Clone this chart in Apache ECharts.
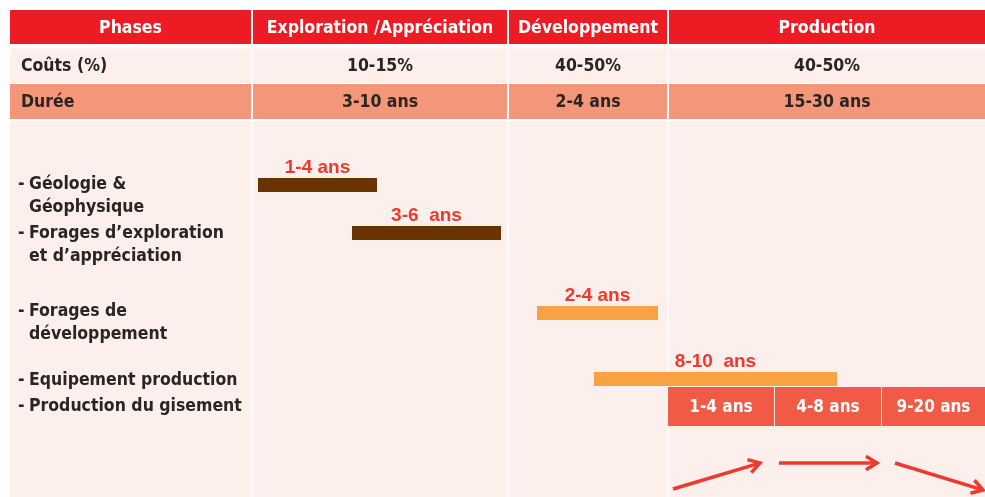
<!DOCTYPE html>
<html lang="fr">
<head>
  <meta charset="UTF-8">
  <title>Phases d'un projet pétrolier</title>
  <style>
    html, body { margin: 0; padding: 0; background: #ffffff; }
    #chart { width: 985px; height: 497px; }
  </style>
</head>
<body>
  <div id="chart"></div>
  <script src="https://cdn.jsdelivr.net/npm/echarts@6/dist/echarts.min.js"></script>
  <script>
    // --- données ---
    const phases = ['Phases', 'Exploration /Appréciation', 'Développement', 'Production'];
    const costs = ['Coûts (%)', '10-15%', '40-50%', '40-50%'];
    const durations = ['Durée', '3-10 ans', '2-4 ans', '15-30 ans'];

    const activities = [
      ['Géologie &', 'Géophysique'],
      ['Forages d\u2019exploration', 'et d\u2019appréciation'],
      ['Forages de', 'développement'],
      ['Equipement production'],
      ['Production du gisement']
    ];

    // barres d'activité (unités de l'axe horizontal)
    const barLabels = ['1-4 ans', '3-6  ans', '2-4 ans', '8-10  ans'];
    const barStart = [258, 352, 537, 594];
    const barEnd = [377, 501, 658, 837];
    const barKind = ['explo', 'explo', 'dev', 'dev'];

    // étapes de production
    const prodStages = ['1-4 ans', '4-8 ans', '9-20 ans'];
    const prodStart = [668, 775, 882];
    const prodEnd = [774, 881, 985];
    const prodTrend = [[673, 489, 760, 463], [779, 463, 877, 463], [895, 463, 983, 490]];

    // --- mise en page ---
    const colEdges = [10, 252, 508, 668, 985];
    const rowEdges = [[10, 44], [48.5, 83], [84, 119], [121, 497]];
    const rowFill = ['#ed1c24', '#fdefeb', '#f4967a', '#fdf0ec'];
    const rowText = ['#ffffff', '#2b2522', '#2b2522', '#2b2522'];
    const activityY = [[184, 207], [233, 256], [311, 334], [380], [406]];
    const barY = [185, 233, 313, 379];
    const prodY = [387, 426];
    const barColor = { explo: '#693400', dev: '#f9a243' };
    const font = "'DejaVu Sans Condensed', 'DejaVu Sans', sans-serif";

    const tableRows = [phases, costs, durations, ['', '', '', '']];
    const cells = [];
    tableRows.forEach((row, r) => row.forEach((t, c) => cells.push([r, c])));

    const chart = echarts.init(document.getElementById('chart'), null, { renderer: 'canvas' });

    const option = {
      animation: false,
      grid: { left: 0, right: 0, top: 0, bottom: 0 },
      xAxis: { type: 'value', min: 0, max: 985, show: false },
      yAxis: { type: 'value', min: 0, max: 497, inverse: true, show: false },
      series: [
        {
          // tableau : en-têtes, coûts, durées, fond
          type: 'custom',
          clip: false,
          data: cells,
          renderItem: function (params, api) {
            const r = api.value(0), c = api.value(1);
            const p0 = api.coord([colEdges[c], rowEdges[r][0]]);
            const p1 = api.coord([colEdges[c + 1], rowEdges[r][1]]);
            const x0 = p0[0] + (c > 0 ? 1 : 0);
            const x1 = p1[0] - (c < 3 ? 1 : 0);
            const text = tableRows[r][c];
            const left = c === 0 && r > 0;
            return {
              type: 'group',
              children: [
                { type: 'rect', shape: { x: x0, y: p0[1], width: x1 - x0, height: p1[1] - p0[1] },
                  style: { fill: rowFill[r] } },
                { type: 'text',
                  style: {
                    text: text,
                    x: left ? x0 + 11 : (x0 + x1) / 2,
                    y: (p0[1] + p1[1]) / 2 + 1,
                    align: left ? 'left' : 'center',
                    verticalAlign: 'middle',
                    fill: rowText[r],
                    font: 'bold 17.5px ' + font
                  } }
              ]
            };
          }
        },
        {
          // libellés des activités
          type: 'custom',
          clip: false,
          data: activities.map((a, i) => [i]),
          renderItem: function (params, api) {
            const i = api.value(0);
            const children = [];
            activities[i].forEach((line, k) => {
              const p = api.coord([29, activityY[i][k]]);
              children.push({ type: 'text', style: { text: line, x: p[0], y: p[1], verticalAlign: 'middle',
                fill: '#2b2522', font: 'bold 17.5px ' + font } });
            });
            const h = api.coord([18, activityY[i][0]]);
            children.push({ type: 'text', style: { text: '-', x: h[0], y: h[1], verticalAlign: 'middle',
              fill: '#2b2522', font: 'bold 17.5px ' + font } });
            return { type: 'group', children: children };
          }
        },
        {
          // barres de durée
          type: 'custom',
          clip: false,
          data: barLabels.map((b, i) => [barStart[i], barEnd[i], barY[i], i]),
          renderItem: function (params, api) {
            const i = api.value(3);
            const a = api.coord([api.value(0), api.value(2)]);
            const b = api.coord([api.value(1), api.value(2)]);
            const h = api.size([0, 14])[1];
            return {
              type: 'group',
              children: [
                { type: 'rect', shape: { x: a[0], y: a[1] - h / 2, width: b[0] - a[0], height: h },
                  style: { fill: barColor[barKind[i]] } },
                { type: 'text', style: { text: barLabels[i], x: (a[0] + b[0]) / 2, y: a[1] - h / 2 - 1,
                  align: 'center', verticalAlign: 'bottom', fill: '#ee3a2e',
                  font: 'bold 19px "Liberation Sans", Arial, sans-serif' } }
              ]
            };
          }
        },
        {
          // étapes de production
          type: 'custom',
          clip: false,
          data: prodStages.map((s, i) => [prodStart[i], prodEnd[i], i]),
          renderItem: function (params, api) {
            const i = api.value(2);
            const a = api.coord([api.value(0), prodY[0]]);
            const b = api.coord([api.value(1), prodY[1]]);
            return {
              type: 'group',
              children: [
                { type: 'rect', shape: { x: a[0], y: a[1], width: b[0] - a[0], height: b[1] - a[1] },
                  style: { fill: '#f15a44' } },
                { type: 'text', style: { text: prodStages[i], x: (a[0] + b[0]) / 2, y: (a[1] + b[1]) / 2 + 1,
                  align: 'center', verticalAlign: 'middle', fill: '#ffffff', font: 'bold 17px ' + font } }
              ]
            };
          }
        },
        {
          // tendances (flèches)
          type: 'custom',
          clip: false,
          data: prodTrend,
          renderItem: function (params, api) {
            const a = api.coord([api.value(0), api.value(1)]);
            const b = api.coord([api.value(2), api.value(3)]);
            const ang = Math.atan2(b[1] - a[1], b[0] - a[0]);
            const len = 13, spread = 0.55;
            const w1 = [b[0] - len * Math.cos(ang - spread), b[1] - len * Math.sin(ang - spread)];
            const w2 = [b[0] - len * Math.cos(ang + spread), b[1] - len * Math.sin(ang + spread)];
            const st = { stroke: '#ee3a2e', lineWidth: 3.5, fill: null, lineCap: 'butt', lineJoin: 'miter' };
            return {
              type: 'group',
              children: [
                { type: 'line', shape: { x1: a[0], y1: a[1], x2: b[0] - Math.cos(ang) * 2, y2: b[1] - Math.sin(ang) * 2 }, style: st },
                { type: 'polyline', shape: { points: [w1, b, w2] }, style: st }
              ]
            };
          }
        }
      ]
    };

    chart.setOption(option);
  </script>
</body>
</html>
